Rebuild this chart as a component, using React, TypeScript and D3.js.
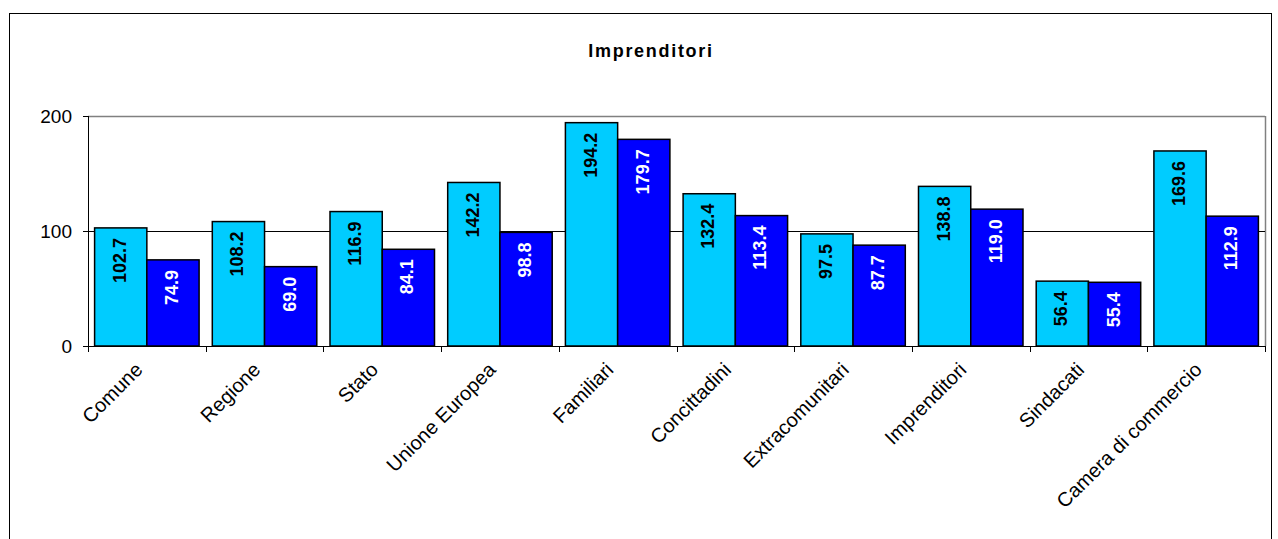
import React from "react";
import * as d3 from "d3";

const categories = ["Comune", "Regione", "Stato", "Unione Europea", "Familiari", "Concittadini", "Extracomunitari", "Imprenditori", "Sindacati", "Camera di commercio"];
const series1 = [102.7, 108.2, 116.9, 142.2, 194.2, 132.4, 97.5, 138.8, 56.4, 169.6];
const series2 = [74.9, 69.0, 84.1, 98.8, 179.7, 113.4, 87.7, 119.0, 55.4, 112.9];
const yTicks = [0, 100, 200];
const title = "Imprenditori";

export default function App() {
  const W = 1278, H = 539;
  const left = 88, right = 1265, top = 116, bottom = 346;
  const x = d3.scaleBand<string>().domain(categories).range([left, right]).paddingInner(0).paddingOuter(0);
  const y = d3.scaleLinear().domain([0, 200]).range([bottom, top]);
  const bw = x.bandwidth();
  const gap = 6.6;
  const barW = (bw - 2 * gap) / 2;
  const font = "'Liberation Sans', Arial, sans-serif";

  return (
    <svg width={W} height={H} style={{ position: "absolute", left: 0, top: 0 }} fontFamily={font}>
      <rect x={0} y={0} width={W} height={H} fill="#fff" />
      <rect x={9.5} y={13.5} width={1262} height={540} fill="none" stroke="#000" strokeWidth={1} />
      <text x={651} y={57} textAnchor="middle" fontWeight="bold" fontSize={18} letterSpacing={1.7}>{title}</text>
      {/* plot area border top/right */}
      <line x1={left} x2={right} y1={top + 0.5} y2={top + 0.5} stroke="#808080" strokeWidth={1.5} />
      <line x1={right + 0.5} x2={right + 0.5} y1={top} y2={bottom} stroke="#808080" strokeWidth={1.5} />
      {yTicks.filter(t => t !== 0 && t !== 200).map(t => (
        <line key={t} x1={left} x2={right} y1={Math.round(y(t)) + 0.5} y2={Math.round(y(t)) + 0.5} stroke="#000" strokeWidth={1} />
      ))}
      {categories.map((c, i) => {
        const x0 = x(c)! + gap;
        const v1 = series1[i], v2 = series2[i];
        const cx1 = x0 + barW / 2, cx2 = x0 + barW * 1.5;
        return (
          <g key={c}>
            <rect x={x0} y={y(v1)} width={barW} height={bottom - y(v1)} fill="#00CCFF" stroke="#000" strokeWidth={1.5} />
            <rect x={x0 + barW} y={y(v2)} width={barW} height={bottom - y(v2)} fill="#0000FF" stroke="#000" strokeWidth={1.5} />
            <text transform={`translate(${cx1 + 5},${y(v1) + 10}) rotate(-90)`} textAnchor="end" fontWeight="bold" fontSize={18} fill="#000">{v1.toFixed(1)}</text>
            <text transform={`translate(${cx2 + 5},${y(v2) + 10}) rotate(-90)`} textAnchor="end" fontWeight="bold" fontSize={18} fill="#fff">{v2.toFixed(1)}</text>
          </g>
        );
      })}
      {/* axes */}
      <line x1={left + 0.5} x2={left + 0.5} y1={top} y2={bottom} stroke="#000" strokeWidth={1} />
      <line x1={left} x2={right + 1} y1={bottom + 0.5} y2={bottom + 0.5} stroke="#000" strokeWidth={1} />
      {yTicks.map(t => (
        <g key={t}>
          <line x1={left - 5} x2={left} y1={Math.round(y(t)) + 0.5} y2={Math.round(y(t)) + 0.5} stroke="#000" />
          <text x={left - 16} y={y(t) + 6.8} textAnchor="end" fontSize={19}>{t}</text>
        </g>
      ))}
      {categories.concat([""]).map((c, i) => {
        const xx = left + i * bw;
        return <line key={"t" + i} x1={Math.round(xx) + 0.5} x2={Math.round(xx) + 0.5} y1={bottom} y2={bottom + 6} stroke="#000" />;
      })}
      {categories.map(c => {
        const cx = x(c)! + bw / 2;
        return (
          <text key={"l" + c} transform={`translate(${cx - 3},${371}) rotate(-45)`} textAnchor="end" fontSize={20}>{c}</text>
        );
      })}
    </svg>
  );
}
